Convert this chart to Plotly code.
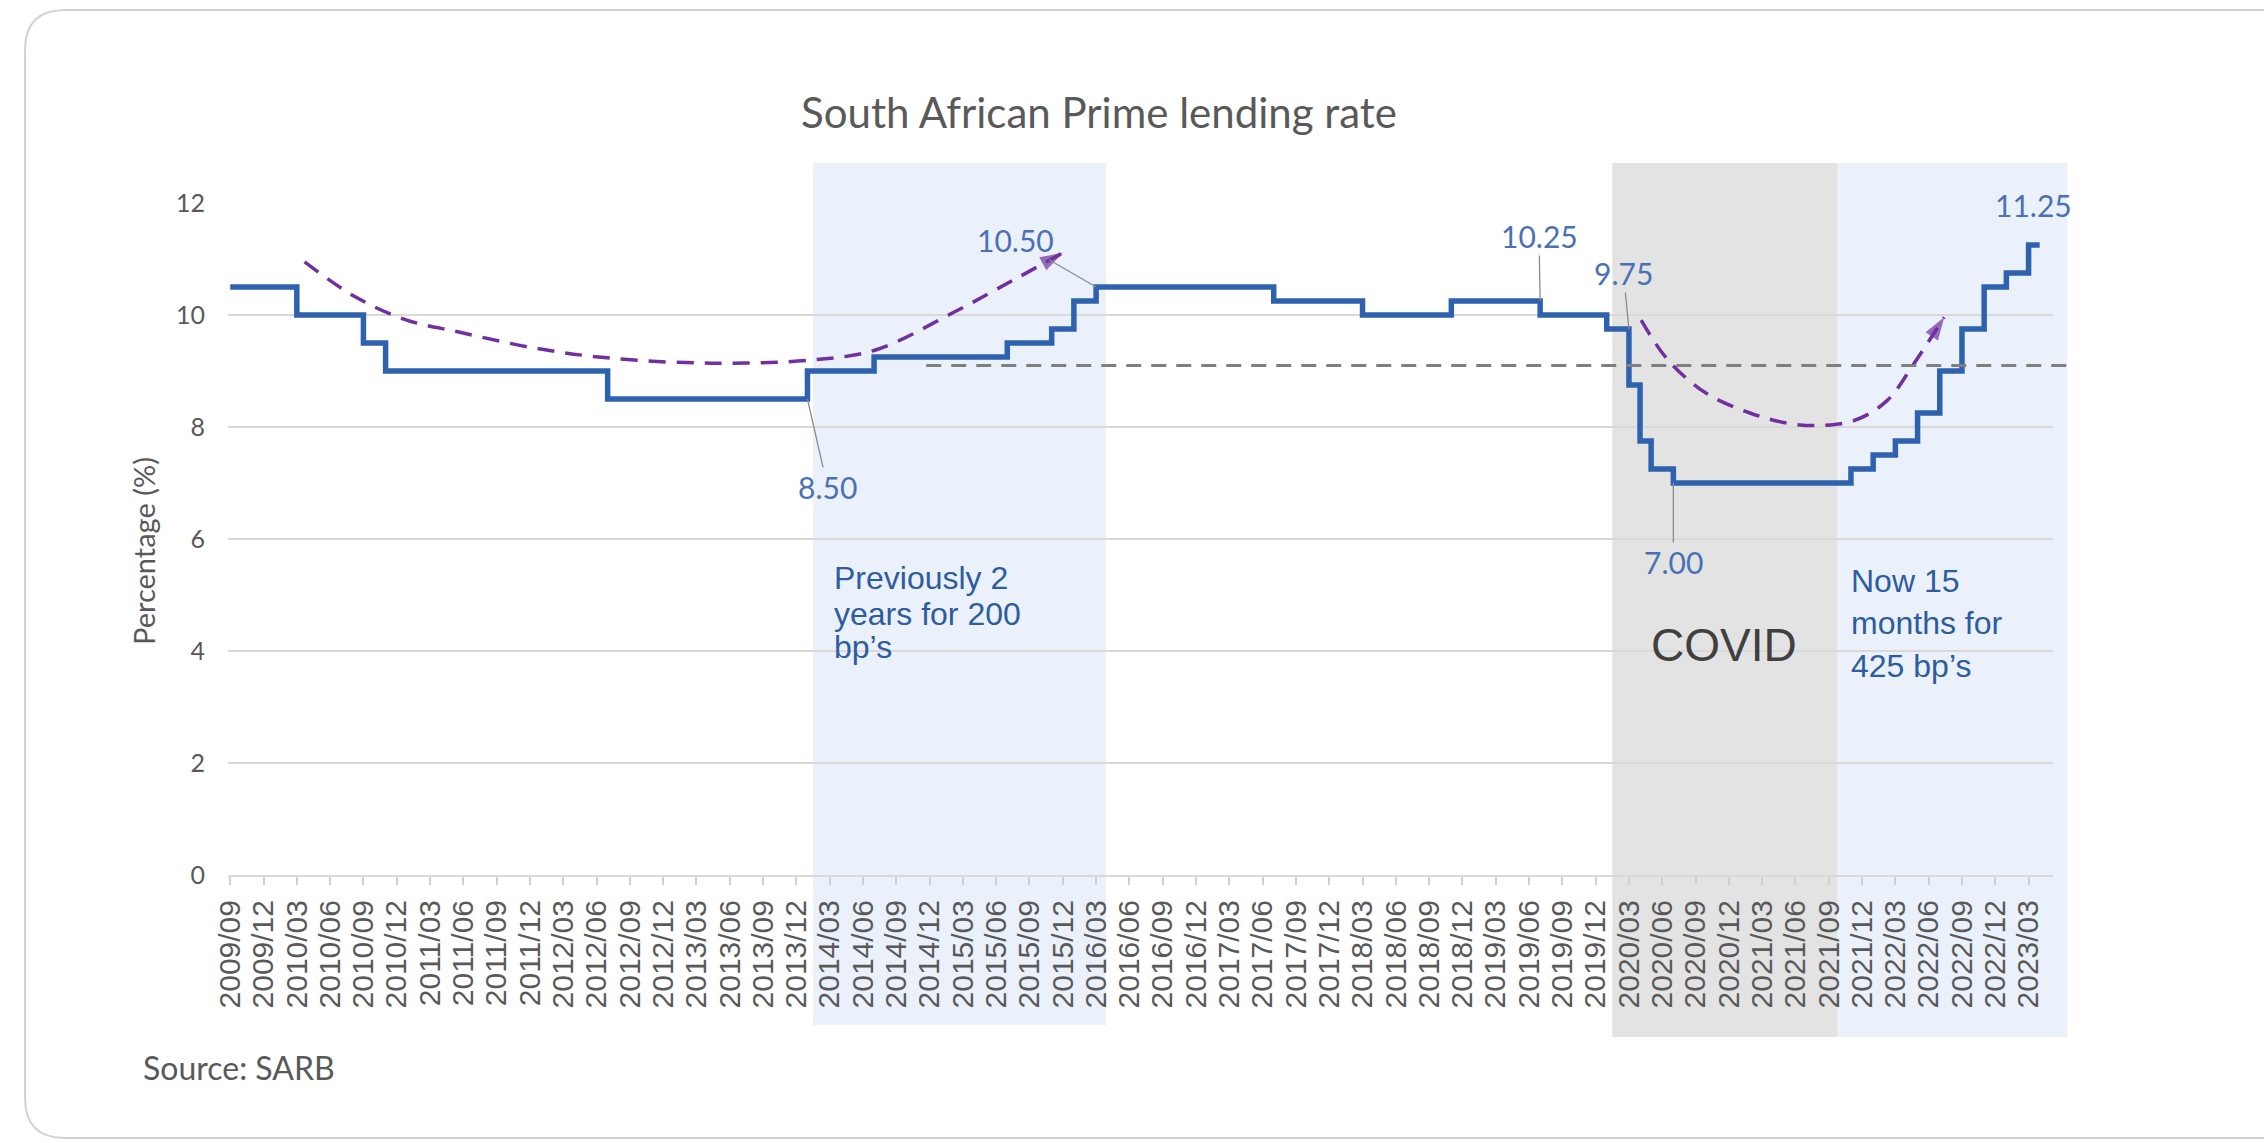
import plotly.graph_objects as go

# ---------------- data ----------------
# Month of each change in the prime lending rate and the new rate (%)
change_months = ["2009/09", "2010/03", "2010/09", "2010/11", "2012/07", "2014/01",
                 "2014/07", "2015/07", "2015/11", "2016/01", "2016/03", "2017/07",
                 "2018/03", "2018/11", "2019/07", "2020/01", "2020/03", "2020/04",
                 "2020/05", "2020/07", "2021/11", "2022/01", "2022/03", "2022/05",
                 "2022/07", "2022/09", "2022/11", "2023/01", "2023/03", "2023/04"]
prime_rate = [10.50, 10.00, 9.50, 9.00, 8.50, 9.00,
              9.25, 9.50, 9.75, 10.25, 10.50, 10.25,
              10.00, 10.25, 10.00, 9.75, 8.75, 7.75,
              7.25, 7.00, 7.25, 7.50, 7.75, 8.25,
              9.00, 9.75, 10.50, 10.75, 11.25, 11.25]

tick_labels = ["2009/09", "2009/12", "2010/03", "2010/06", "2010/09", "2010/12",
               "2011/03", "2011/06", "2011/09", "2011/12", "2012/03", "2012/06",
               "2012/09", "2012/12", "2013/03", "2013/06", "2013/09", "2013/12",
               "2014/03", "2014/06", "2014/09", "2014/12", "2015/03", "2015/06",
               "2015/09", "2015/12", "2016/03", "2016/06", "2016/09", "2016/12",
               "2017/03", "2017/06", "2017/09", "2017/12", "2018/03", "2018/06",
               "2018/09", "2018/12", "2019/03", "2019/06", "2019/09", "2019/12",
               "2020/03", "2020/06", "2020/09", "2020/12", "2021/03", "2021/06",
               "2021/09", "2021/12", "2022/03", "2022/06", "2022/09", "2022/12",
               "2023/03"]

# Hand-drawn trend arrows (x in months since 2009/09, y in %)
trend_2010_x = [6.7, 11.3, 15.9, 20.5, 27.4, 34.2, 43.4, 52.6, 58.2, 65.1, 70.6, 75.0]
trend_2010_y = [10.95, 10.32, 9.91, 9.70, 9.41, 9.23, 9.14, 9.20, 9.38, 10.04, 10.63, 11.11]
trend_2020_x = [127.1, 129.5, 132.9, 136.9, 140.5, 143.5, 146.5, 149.3, 151.7, 154.4]
trend_2020_y = [9.91, 9.20, 8.61, 8.25, 8.06, 8.03, 8.13, 8.48, 9.14, 9.96]

reference_level = 9.1
reference_span = [62.7, 166.3]

# Highlighted periods (months since 2009/09)
previous_cycle_span = [52.5, 78.9]
covid_span = [124.5, 144.8]
current_cycle_span = [144.8, 165.5]

# Labelled values
label_months = ["2014/01", "2016/03", "2019/07", "2020/03", "2020/07", "2023/03"]
label_values = [8.50, 10.50, 10.25, 9.75, 7.00, 11.25]
label_text_pos = [(53.8, 6.93), (70.7, 11.34), (117.9, 11.41), (125.5, 10.75),
                  (130.0, 5.59), (162.4, 11.96)]
label_leader = [True, True, True, True, True, False]

note_previous = ["Previously 2", "years for 200", "bp’s"]
note_previous_y = [5.30, 4.66, 4.07]
note_current = ["Now 15", "months for", "425 bp’s"]
note_current_y = [5.25, 4.50, 3.73]

# ---------------- helpers ----------------
def month_index(s):
    y, m = s.split("/")
    return (int(y) - 2009) * 12 + (int(m) - 9)

W, H = 2264, 1143
ML, MR, MT, MB = 228, 211, 203, 268
PW, PH = W - ML - MR, H - MT - MB
X_RANGE = [-0.2, 164.2]
Y_RANGE = [0, 12]

def xp(i):
    return (i - X_RANGE[0]) / (X_RANGE[1] - X_RANGE[0])

def pxx(px):
    return (px - ML) / PW

def pxy(py):
    return (H - MB - py) / PH

BLUE_LINE = "#2F62AE"
LABEL_BLUE = "#4A70B5"
NOTE_BLUE = "#2E5C9E"
PURPLE = "#7030A0"
GRAY_TEXT = "#595959"

x_rate = [month_index(m) for m in change_months]
tickvals = [month_index(t) for t in tick_labels]

fig = go.Figure()

fig.add_trace(go.Scatter(
    x=x_rate, y=prime_rate, mode="lines", line_shape="hv",
    line=dict(color=BLUE_LINE, width=5.5), showlegend=False, hoverinfo="skip"))

for tx, ty in [(trend_2010_x, trend_2010_y), (trend_2020_x, trend_2020_y)]:
    n = len(tx)
    fig.add_trace(go.Scatter(
        x=tx, y=ty, mode="lines+markers", line_shape="spline",
        line=dict(color=PURPLE, width=3.5, dash="17px,11px"),
        marker=dict(symbol="arrow", size=[0] * (n - 1) + [24], angleref="previous",
                    color=PURPLE, line=dict(width=0)),
        showlegend=False, hoverinfo="skip"))

shapes = []
# card border
left, top, right, bottom, r = 25, 10, 2320, 1138, 40
path = (f"M {pxx(right)},{pxy(bottom)} L {pxx(left + r)},{pxy(bottom)} "
        f"Q {pxx(left)},{pxy(bottom)} {pxx(left)},{pxy(bottom - r)} "
        f"L {pxx(left)},{pxy(top + r)} Q {pxx(left)},{pxy(top)} {pxx(left + r)},{pxy(top)} "
        f"L {pxx(right)},{pxy(top)}")
shapes.append(dict(type="path", xref="paper", yref="paper", path=path,
                   line=dict(color="#D2D2D2", width=2), layer="below"))

shade_top = pxy(163)
for span, color, bot in [(previous_cycle_span, "#EBF1FB", 1025),
                         (covid_span, "#E3E3E3", 1037),
                         (current_cycle_span, "#EBF1FB", 1037)]:
    shapes.append(dict(type="rect", xref="paper", yref="paper",
                       x0=xp(span[0]), x1=xp(span[1]), y0=pxy(bot), y1=shade_top,
                       fillcolor=color, line=dict(width=0), layer="below"))

shapes.append(dict(type="line", xref="paper", yref="y",
                   x0=xp(reference_span[0]), x1=xp(reference_span[1]),
                   y0=reference_level, y1=reference_level,
                   line=dict(color="#7F7F7F", width=3, dash="15px,10px"), layer="above"))

annotations = []
for m, v, (tx, ty), lead in zip(label_months, label_values, label_text_pos, label_leader):
    a = dict(text=f"{v:.2f}", font=dict(family="Lato", size=30, color=LABEL_BLUE),
             xref="x", yref="y")
    if lead:
        a.update(x=month_index(m), y=v, ax=tx, ay=ty, axref="x", ayref="y",
                 showarrow=True, arrowhead=0, arrowwidth=1.3, arrowcolor="#8C8C8C",
                 standoff=0)
    else:
        a.update(x=tx, y=ty, showarrow=False)
    annotations.append(a)

for txt, yy in zip(note_previous, note_previous_y):
    annotations.append(dict(text=txt, xref="x", yref="y", x=54.2, y=yy,
                            xanchor="left", yanchor="middle", showarrow=False,
                            font=dict(family="Liberation Sans", size=32, color=NOTE_BLUE)))
for txt, yy in zip(note_current, note_current_y):
    annotations.append(dict(text=txt, xref="x", yref="y", x=145.8, y=yy,
                            xanchor="left", yanchor="middle", showarrow=False,
                            font=dict(family="Liberation Sans", size=32, color=NOTE_BLUE)))
annotations.append(dict(text="COVID", xref="x", yref="y", x=134.6, y=4.11,
                        showarrow=False,
                        font=dict(family="Liberation Sans", size=46, color="#404040")))
annotations.append(dict(text="Percentage (%)", xref="paper", yref="paper",
                        x=pxx(143), y=pxy(551), xanchor="center", yanchor="middle",
                        textangle=-90, showarrow=False,
                        font=dict(family="Lato", size=29, color=GRAY_TEXT)))
annotations.append(dict(text="Source: SARB", xref="paper", yref="paper",
                        x=pxx(141), y=pxy(1067), xanchor="left", yanchor="middle",
                        showarrow=False,
                        font=dict(family="Lato", size=32, color=GRAY_TEXT)))

fig.update_layout(
    width=W, height=H, autosize=False,
    margin=dict(l=ML, r=MR, t=MT, b=MB),
    paper_bgcolor="white", plot_bgcolor="rgba(0,0,0,0)",
    title=dict(text="South African Prime lending rate", x=pxx(1099), xref="paper",
               xanchor="center", y=1 - 113 / H, yref="container", yanchor="middle",
               font=dict(family="Lato", size=42, color=GRAY_TEXT)),
    shapes=shapes, annotations=annotations, showlegend=False,
    xaxis=dict(range=X_RANGE, tickmode="array", tickvals=tickvals, ticktext=tick_labels,
               tickangle=-90, showgrid=False, zeroline=False, showline=True,
               linecolor="#D9D9D9", linewidth=2, ticks="outside", ticklen=8,
               tickcolor="#D0D0D0", tickwidth=1.5, ticklabelstandoff=3,
               tickfont=dict(family="Liberation Sans", size=30, color=GRAY_TEXT)),
    yaxis=dict(range=Y_RANGE, tickvals=[0, 2, 4, 6, 8, 10, 12], showgrid=True,
               gridcolor="#D9D9D9", gridwidth=2, zeroline=False, showline=False,
               ticklabelstandoff=22,
               tickfont=dict(family="Lato", size=25, color=GRAY_TEXT)),
)

fig.write_html("out.html", config={"displayModeBar": False},
               post_script="document.body.style.margin='0';")
